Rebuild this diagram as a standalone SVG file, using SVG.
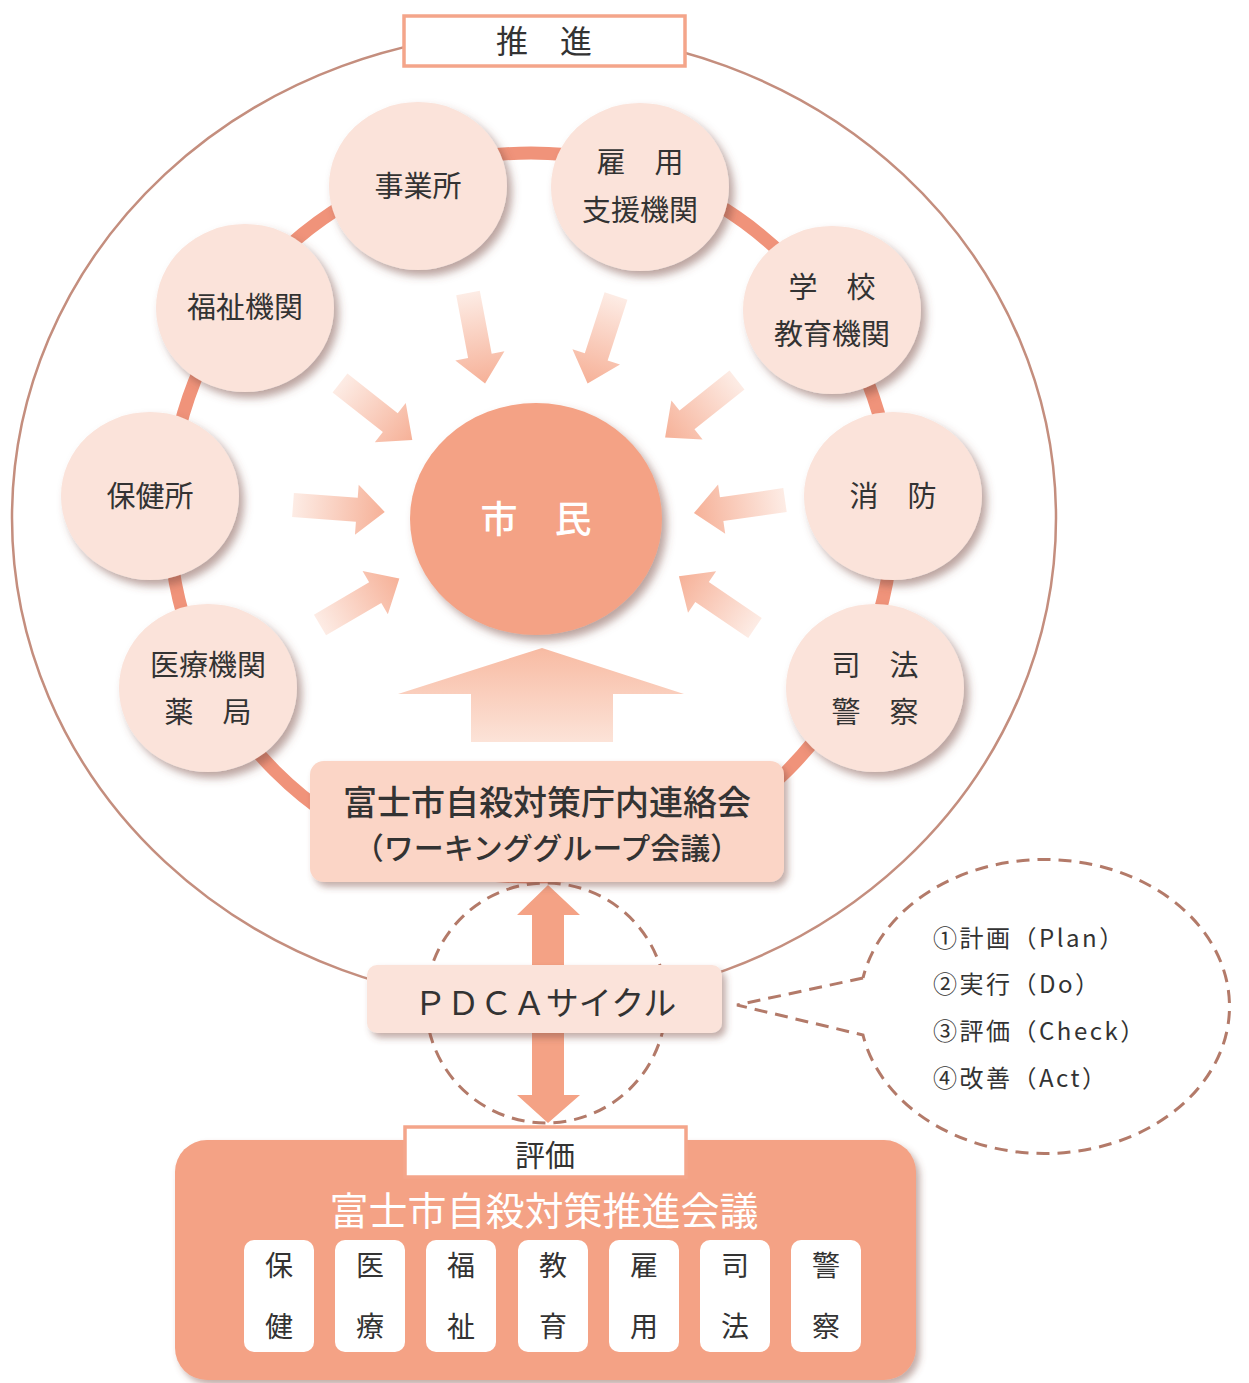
<svg xmlns="http://www.w3.org/2000/svg" width="1249" height="1383" viewBox="0 0 1249 1383">
<defs>
<style>
.jp{font-family:"Noto Sans CJK JP","Noto Sans",sans-serif;fill:#333;text-anchor:middle}
.node{fill:#fbe3da}
.lbl{fill:#fff;stroke:#f4a58a;stroke-width:3.5}
.dash{fill:none;stroke:#b37a69;stroke-width:3;stroke-dasharray:13 8}
.sbox{fill:#fff}
.bub{text-anchor:start;letter-spacing:2.5px}
</style>
<filter id="sh" x="-20%" y="-20%" width="150%" height="150%">
<feDropShadow dx="5" dy="6" stdDeviation="4" flood-color="#7a4a40" flood-opacity="0.5"/>
</filter>
<filter id="sh2" x="-10%" y="-10%" width="130%" height="130%">
<feDropShadow dx="4" dy="5" stdDeviation="3.5" flood-color="#7a4a40" flood-opacity="0.45"/>
</filter>
<linearGradient id="ag" x1="0" y1="0" x2="1" y2="0">
<stop offset="0" stop-color="#fdece5"/>
<stop offset="1" stop-color="#f6b198"/>
</linearGradient>
<linearGradient id="ug" x1="0" y1="0" x2="0" y2="1">
<stop offset="0" stop-color="#f8bba3"/>
<stop offset="1" stop-color="#fce3d8"/>
</linearGradient>
<path id="arr" d="M0,-12 H64 V-25 L92,0 L64,25 V12 H0 Z" fill="url(#ag)"/>
</defs>

<rect width="1249" height="1383" fill="#fff"/>

<g id="connectors">
<ellipse cx="534" cy="518" rx="522" ry="486" fill="none" stroke="#c48e7e" stroke-width="2.5"/>
<circle cx="531" cy="515" r="362" fill="none" stroke="#f0937a" stroke-width="13"/>
<use href="#arr" transform="translate(468,293) rotate(79.3)"/>
<use href="#arr" transform="translate(616,296) rotate(108)"/>
<use href="#arr" transform="translate(340,383) rotate(38.2)"/>
<use href="#arr" transform="translate(737,380) rotate(141.4)"/>
<use href="#arr" transform="translate(293,505) rotate(4.3)"/>
<use href="#arr" transform="translate(785,500) rotate(171.8)"/>
<use href="#arr" transform="translate(320,625) rotate(-30.4)"/>
<use href="#arr" transform="translate(755,628) rotate(-145.8)"/>
<path d="M398,694 L542,648 L684,694 L613,694 L613,742 L471,742 L471,694 Z" fill="url(#ug)"/>
<circle cx="546" cy="1003" r="120" class="dash"/>
<path d="M532,915 H517 L548,885 L580,915 H564 V1095 H580 L548,1123 L517,1095 H532 Z" fill="#f4a285"/>
<path d="M863,978 L737,1005 L863,1035 A185,147 0 1 0 863,978" class="dash"/>
</g>

<g id="label-suishin">
<rect x="404" y="16" width="281" height="50" class="lbl"/>
<text x="544" y="53" class="jp" font-size="32">推　進</text>
</g>

<g id="node-jigyosho">
<ellipse cx="418" cy="186" rx="89" ry="84" class="node" filter="url(#sh)"/>
<text x="418" y="197" class="jp" font-size="29">事業所</text>
</g>
<g id="node-koyo">
<ellipse cx="640" cy="187" rx="89" ry="84" class="node" filter="url(#sh)"/>
<text x="640" y="173" class="jp" font-size="29">雇　用</text>
<text x="640" y="221" class="jp" font-size="29">支援機関</text>
</g>
<g id="node-gakko">
<ellipse cx="832" cy="310" rx="89" ry="84" class="node" filter="url(#sh)"/>
<text x="832" y="298" class="jp" font-size="29">学　校</text>
<text x="832" y="345" class="jp" font-size="29">教育機関</text>
</g>
<g id="node-fukushi">
<ellipse cx="245" cy="308" rx="89" ry="84" class="node" filter="url(#sh)"/>
<text x="245" y="318" class="jp" font-size="29">福祉機関</text>
</g>
<g id="node-hokenjo">
<ellipse cx="150" cy="496" rx="89" ry="84" class="node" filter="url(#sh)"/>
<text x="150" y="507" class="jp" font-size="29">保健所</text>
</g>
<g id="node-shobo">
<ellipse cx="893" cy="496" rx="89" ry="84" class="node" filter="url(#sh)"/>
<text x="893" y="507" class="jp" font-size="29">消　防</text>
</g>
<g id="node-iryo">
<ellipse cx="208" cy="688" rx="89" ry="84" class="node" filter="url(#sh)"/>
<text x="208" y="676" class="jp" font-size="29">医療機関</text>
<text x="208" y="723" class="jp" font-size="29">薬　局</text>
</g>
<g id="node-shiho">
<ellipse cx="875" cy="688" rx="89" ry="84" class="node" filter="url(#sh)"/>
<text x="875" y="676" class="jp" font-size="29">司　法</text>
<text x="875" y="723" class="jp" font-size="29">警　察</text>
</g>

<g id="node-shimin">
<ellipse cx="536" cy="519" rx="126" ry="116" fill="#f4a285" filter="url(#sh)"/>
<text x="536" y="533" class="jp" font-size="37" font-weight="500" style="fill:#fff">市　民</text>
</g>

<g id="node-renrakukai">
<rect x="310" y="761" width="474" height="121" rx="14" fill="#fbd5c6" filter="url(#sh2)"/>
<text x="547" y="815" class="jp" font-size="34" font-weight="500">富士市自殺対策庁内連絡会</text>
<text x="547" y="859" class="jp" font-size="30" font-weight="500">（ワーキンググループ会議）</text>
</g>

<g id="node-pdca">
<rect x="367" y="965" width="355" height="68" rx="10" fill="#fbe3da" filter="url(#sh2)"/>
<text x="545" y="1015" class="jp" font-size="33">ＰＤＣＡサイクル</text>
</g>

<g id="node-bubble">
<text x="933" y="947" class="jp bub" font-size="24">①計画（Plan）</text>
<text x="933" y="993" class="jp bub" font-size="24">②実行（Do）</text>
<text x="933" y="1040" class="jp bub" font-size="24">③評価（Check）</text>
<text x="933" y="1087" class="jp bub" font-size="24">④改善（Act）</text>
</g>

<g id="node-suishinkaigi">
<rect x="175" y="1140" width="741" height="240" rx="32" fill="#f4a285" filter="url(#sh2)"/>
<rect x="405" y="1127" width="281" height="50" class="lbl"/>
<text x="545" y="1166" class="jp" font-size="30">評価</text>
<text x="544" y="1225" class="jp" font-size="39" style="fill:#fff">富士市自殺対策推進会議</text>
<rect x="244" y="1240" width="70" height="112" rx="10" class="sbox"/>
<rect x="335" y="1240" width="70" height="112" rx="10" class="sbox"/>
<rect x="426" y="1240" width="70" height="112" rx="10" class="sbox"/>
<rect x="518" y="1240" width="70" height="112" rx="10" class="sbox"/>
<rect x="609" y="1240" width="70" height="112" rx="10" class="sbox"/>
<rect x="700" y="1240" width="70" height="112" rx="10" class="sbox"/>
<rect x="791" y="1240" width="70" height="112" rx="10" class="sbox"/>
<text x="279" y="1276" class="jp" font-size="28">保</text>
<text x="279" y="1337" class="jp" font-size="28">健</text>
<text x="370" y="1276" class="jp" font-size="28">医</text>
<text x="370" y="1337" class="jp" font-size="28">療</text>
<text x="461" y="1276" class="jp" font-size="28">福</text>
<text x="461" y="1337" class="jp" font-size="28">祉</text>
<text x="553" y="1276" class="jp" font-size="28">教</text>
<text x="553" y="1337" class="jp" font-size="28">育</text>
<text x="644" y="1276" class="jp" font-size="28">雇</text>
<text x="644" y="1337" class="jp" font-size="28">用</text>
<text x="735" y="1276" class="jp" font-size="28">司</text>
<text x="735" y="1337" class="jp" font-size="28">法</text>
<text x="826" y="1276" class="jp" font-size="28">警</text>
<text x="826" y="1337" class="jp" font-size="28">察</text>
</g>
</svg>
